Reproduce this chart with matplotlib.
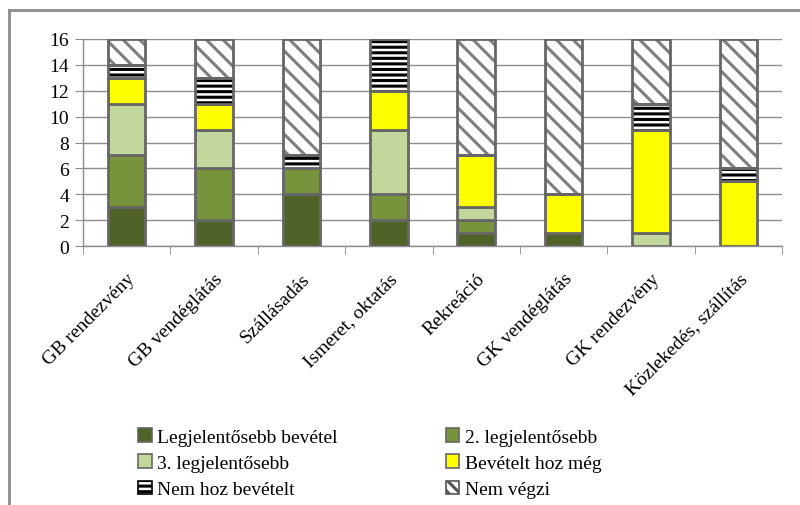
import matplotlib
matplotlib.use("Agg")
import matplotlib.pyplot as plt
import numpy as np
from matplotlib.patches import Patch
from matplotlib.lines import Line2D

plt.rcParams['font.family'] = ['Liberation Serif', 'DejaVu Serif']
plt.rcParams['hatch.linewidth'] = 2.2

categories = ["GB rendezvény", "GB vendéglátás", "Szállásadás", "Ismeret, oktatás",
              "Rekreáció", "GK vendéglátás", "GK rendezvény", "Közlekedés, szállítás"]
series_names = ["Legjelentősebb bevétel", "2. legjelentősebb", "3. legjelentősebb",
                "Bevételt hoz még", "Nem hoz bevételt", "Nem végzi"]
legjelentosebb = [3, 2, 4, 2, 1, 1, 0, 0]
masodik = [4, 4, 2, 2, 1, 0, 0, 0]
harmadik = [4, 3, 0, 5, 1, 0, 1, 0]
bevetelt_hoz = [2, 2, 0, 3, 4, 3, 8, 5]
nem_hoz = [1, 2, 1, 4, 0, 0, 2, 1]
nem_vegzi = [2, 3, 9, 0, 9, 12, 5, 10]

series = [legjelentosebb, masodik, harmadik, bevetelt_hoz, nem_hoz, nem_vegzi]
colors = ["#4F6228", "#77933C", "#C3D69B", "#FFFF00", "white", "white"]
hatches = [None, None, None, None, "---", "\\\\"]
hatch_colors = [None, None, None, None, "black", "#7F7F7F"]
edge = "#666666"

fig = plt.figure(figsize=(8, 5.06), dpi=100)
ax = fig.add_axes([83 / 800, 1 - 247 / 506, 699 / 800, 207 / 506])

x = np.arange(len(categories))
width = 0.43
bottom = np.zeros(len(categories))
for vals, col, h, hc in zip(series, colors, hatches, hatch_colors):
    vals = np.array(vals, dtype=float)
    if h is not None:
        # hatch drawn first, grey outline on top
        ax.bar(x, vals, width, bottom=bottom, color=col, edgecolor=hc, hatch=h,
               linewidth=0, zorder=3)
        ax.bar(x, vals, width, bottom=bottom, fill=False, edgecolor=edge,
               linewidth=2, zorder=4)
    else:
        ax.bar(x, vals, width, bottom=bottom, color=col, edgecolor=edge,
               linewidth=2, zorder=3)
    bottom += vals

ax.set_xlim(-0.5, len(categories) - 0.5)
ax.set_ylim(0, 16)
ax.set_yticks(np.arange(0, 17, 2))
ax.yaxis.grid(True, color="#8C8C8C", linewidth=1, zorder=0)
ax.set_axisbelow(True)

ax.set_xticks(x)
ax.set_xticklabels(categories, rotation=45, ha='right', rotation_mode='anchor', fontsize=14)
ax.set_xticks(np.arange(-0.5, len(categories), 1), minor=True)
ax.tick_params(axis='x', which='major', length=0, pad=17)
ax.tick_params(axis='x', which='minor', length=6, color="#8C8C8C", direction='out')
ax.tick_params(axis='y', length=6, color="#8C8C8C", labelsize=14, pad=4)

for s in ['top', 'right']:
    ax.spines[s].set_visible(False)
for s in ['left', 'bottom']:
    ax.spines[s].set_color("#8C8C8C")
    ax.spines[s].set_linewidth(1)

handles = []
for name, col, h, hc in zip(series_names, colors, hatches, hatch_colors):
    if h is not None:
        handles.append(Patch(facecolor=col, edgecolor="black" if h == "---" else "#555555",
                             hatch="---" if h == "---" else "\\\\\\", label=name, linewidth=1.2))
    else:
        handles.append(Patch(facecolor=col, edgecolor=edge, label=name, linewidth=1.2))

order = [0, 2, 4, 1, 3, 5]
leg = fig.legend([handles[i] for i in order], [series_names[i] for i in order],
                 loc='upper left', bbox_to_anchor=(138 / 800, 1 - 429 / 506), ncol=2,
                 frameon=False, fontsize=14, handlelength=0.7, handleheight=0.7,
                 handletextpad=0.3, columnspacing=5.55, labelspacing=0.45,
                 borderaxespad=0, borderpad=0)

# outer frame (top and left edges visible)
fig.add_artist(Line2D([9 / 800, 1.0], [1 - 11 / 506, 1 - 11 / 506], color="#8C8C8C",
                      linewidth=2, transform=fig.transFigure))
fig.add_artist(Line2D([9 / 800, 9 / 800], [0, 1 - 11 / 506], color="#8C8C8C",
                      linewidth=2, transform=fig.transFigure))

fig.savefig("out.png", dpi=100)
